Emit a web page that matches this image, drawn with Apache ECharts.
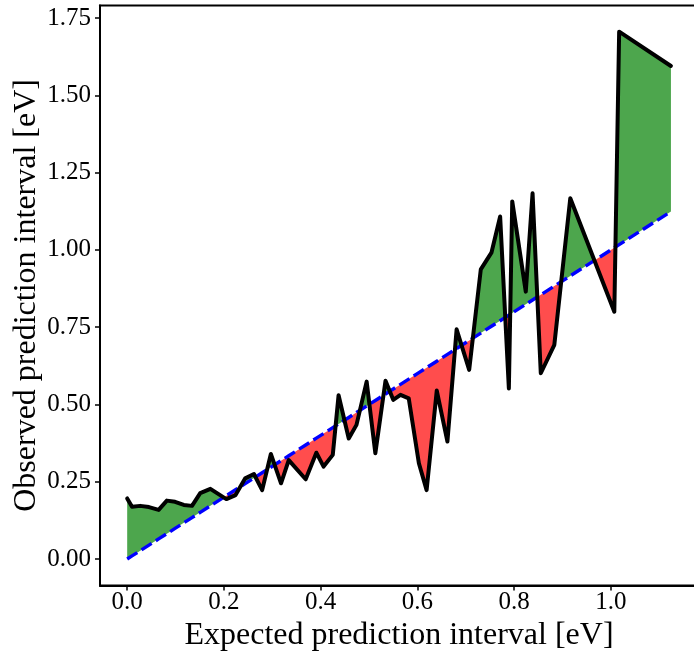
<!DOCTYPE html>
<html>
<head>
<meta charset="utf-8">
<script src="https://cdn.jsdelivr.net/npm/echarts@6/dist/echarts.min.js"></script>
<style>
html,body{margin:0;padding:0;background:#fff;}
#chart{width:694px;height:656px;}
</style>
</head>
<body>
<div id="chart"></div>
<script>
// Expected prediction interval (x) and observed prediction interval (y)
const expected = [0, 0.01, 0.027, 0.045, 0.065, 0.082, 0.099, 0.117, 0.134, 0.151,
  0.172, 0.205, 0.224, 0.244, 0.262, 0.279, 0.297, 0.318, 0.334, 0.369,
  0.391, 0.406, 0.425, 0.437, 0.458, 0.474, 0.495, 0.513, 0.534, 0.55,
  0.565, 0.582, 0.603, 0.619, 0.64, 0.662, 0.681, 0.707, 0.731, 0.753,
  0.771, 0.789, 0.796, 0.824, 0.838, 0.855, 0.883, 0.916, 1.007, 1.017, 1.124];
const observed = [0.196, 0.169, 0.172, 0.168, 0.159, 0.189, 0.185, 0.175, 0.172, 0.213,
  0.227, 0.194, 0.207, 0.261, 0.275, 0.223, 0.34, 0.245, 0.32, 0.258,
  0.344, 0.299, 0.337, 0.53, 0.39, 0.434, 0.574, 0.342, 0.577, 0.515,
  0.531, 0.52, 0.31, 0.223, 0.545, 0.38, 0.743, 0.612, 0.937, 0.991,
  1.108, 0.552, 1.157, 0.865, 1.183, 0.601, 0.693, 1.167, 0.80, 1.706, 1.595];
const xTicks = [0, 0.2, 0.4, 0.6, 0.8, 1.0];
const yTicks = [0, 0.25, 0.5, 0.75, 1.0, 1.25, 1.5, 1.75];

const FONT = '"Liberation Serif", "Times New Roman", serif';
const GREEN = '#4da64d', RED = '#ff4d4d';

const obsLine = expected.map((x, i) => [x, observed[i]]);
const diagLine = expected.map(x => [x, x]);

// Build contiguous regions between observed curve and the y=x diagonal
const regions = [];
function startRegion(sign, x, y) {
  const r = { sign, top: [[x, y]], base: [[x, x]] };
  regions.push(r);
  return r;
}
let cur = null;
for (let i = 0; i < expected.length - 1; i++) {
  const x0 = expected[i], y0 = observed[i], x1 = expected[i + 1], y1 = observed[i + 1];
  const d0 = y0 - x0, d1 = y1 - x1;
  const s0 = d0 >= 0 ? 1 : -1, s1 = d1 >= 0 ? 1 : -1;
  if (!cur) cur = startRegion(s0, x0, y0);
  if (s0 === s1 || d0 === 0 || d1 === 0) {
    cur.top.push([x1, y1]); cur.base.push([x1, x1]);
  } else {
    const t = d0 / (d0 - d1);
    const xc = x0 + t * (x1 - x0);
    cur.top.push([xc, xc]);
    cur = startRegion(s1, xc, xc);
    cur.top.push([x1, y1]); cur.base.push([x1, x1]);
  }
}
const regionIdx = regions.map((r, i) => [i, r.top[0][0], r.top[0][1]]);

function renderFill(params, api) {
  const r = regions[params.dataIndex];
  const pts = r.top.map(p => api.coord(p)).concat(r.base.slice().reverse().map(p => api.coord(p)));
  const col = r.sign > 0 ? GREEN : RED;
  return { type: 'polygon', shape: { points: pts }, style: { fill: col } };
}

const chart = echarts.init(document.getElementById('chart'), null, { renderer: 'canvas' });
chart.setOption({
  animation: false,
  backgroundColor: '#fff',
  grid: {
    left: 100, top: 5.4, width: 598, height: 580,
    outerBoundsMode: 'none', containLabel: false,
    show: true, borderColor: '#000', borderWidth: 2, backgroundColor: 'transparent'
  },
  xAxis: {
    type: 'value', min: -0.0562, max: 1.18,
    name: 'Expected prediction interval [eV]',
    nameLocation: 'middle', nameGap: 34, nameMoveOverlap: false,
    nameTextStyle: { fontFamily: FONT, fontSize: 32, color: '#000' },
    axisLine: { show: true, onZero: false, lineStyle: { color: '#000', width: 2 } },
    axisTick: { show: true, customValues: xTicks, length: 5, lineStyle: { color: '#000', width: 1.5 } },
    axisLabel: {
      customValues: xTicks, margin: 5, formatter: v => v.toFixed(1),
      fontFamily: FONT, fontSize: 25, color: '#000'
    },
    splitLine: { show: false }
  },
  yAxis: {
    type: 'value', min: -0.0853, max: 1.791,
    name: 'Observed prediction interval [eV]',
    nameLocation: 'middle', nameGap: 57, nameMoveOverlap: false,
    nameTextStyle: { fontFamily: FONT, fontSize: 32, color: '#000' },
    axisLine: { show: true, onZero: false, lineStyle: { color: '#000', width: 2 } },
    axisTick: { show: true, customValues: yTicks, length: 5, lineStyle: { color: '#000', width: 1.5 } },
    axisLabel: {
      customValues: yTicks, margin: 9, formatter: v => v.toFixed(2),
      fontFamily: FONT, fontSize: 25, color: '#000'
    },
    splitLine: { show: false }
  },
  series: [
    {
      type: 'custom', data: regionIdx, renderItem: renderFill,
      encode: { x: 1, y: 2 }, z: 1, silent: true, clip: false
    },
    {
      type: 'line', data: diagLine, showSymbol: false, z: 3, silent: true,
      lineStyle: { color: '#0000ff', width: 3.4, type: [12, 5] }
    },
    {
      type: 'line', data: obsLine, showSymbol: false, z: 4, silent: true,
      lineStyle: { color: '#000', width: 4, join: 'round', cap: 'round' }
    }
  ]
});
</script>
</body>
</html>
